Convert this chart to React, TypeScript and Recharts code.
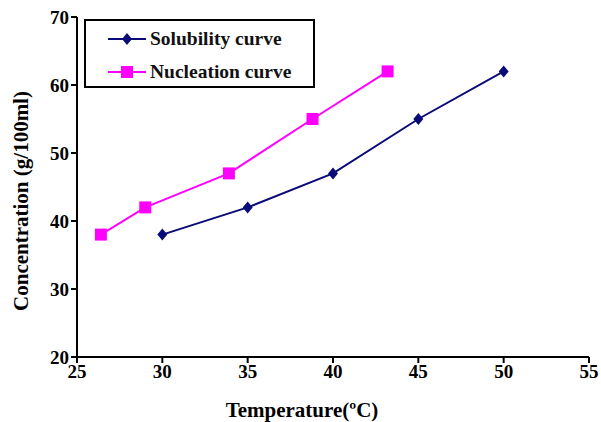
import { LineChart, Line, XAxis, YAxis } from "recharts";

const solubilityTemps = [30, 35, 40, 45, 50];
const solubilityConc = [38, 42, 47, 55, 62];
const nucleationTemps = [26.4, 29, 33.9, 38.8, 43.2];
const nucleationConc = [38, 42, 47, 55, 62];
const xTicks = [25, 30, 35, 40, 45, 50, 55];
const yTicks = [20, 30, 40, 50, 60, 70];

const NAVY = "#0a0a78";
const PINK = "#ff00ff";
const FONT = "'Liberation Serif', 'Times New Roman', serif";

const solubilityData = solubilityTemps.map((t, i) => ({ t, c: solubilityConc[i] }));
const nucleationData = nucleationTemps.map((t, i) => ({ t, c: nucleationConc[i] }));

const Diamond = (props: any) => {
  const { cx, cy } = props;
  if (cx == null || cy == null) return null;
  return (
    <polygon
      points={`${cx},${cy - 6} ${cx + 5},${cy} ${cx},${cy + 6} ${cx - 5},${cy}`}
      fill={NAVY}
    />
  );
};

const Square = (props: any) => {
  const { cx, cy } = props;
  if (cx == null || cy == null) return null;
  return <rect x={cx - 6} y={cy - 6} width={12} height={12} fill={PINK} />;
};

const tickStyle = { fill: "#000", fontSize: 19, fontWeight: "bold", fontFamily: FONT };

export default function App() {
  return (
    <div style={{ position: "absolute", left: 0, top: 0, width: 601, height: 422, background: "#fff" }}>
      <LineChart width={601} height={422} margin={{ top: 17, right: 12, left: 17, bottom: 0 }}>
        <XAxis
          type="number"
          dataKey="t"
          domain={[25, 55]}
          ticks={xTicks}
          allowDataOverflow
          height={65}
          stroke="#000"
          strokeWidth={2}
          tickSize={6}
          tickMargin={2}
          tick={tickStyle}
          label={() => (
            <text x={302} y={417} textAnchor="middle" fontSize={21} fontWeight="bold" fontFamily={FONT} fill="#000">
              Temperature(ºC)
            </text>
          )}
        />
        <YAxis
          type="number"
          dataKey="c"
          domain={[20, 70]}
          ticks={yTicks}
          width={60}
          stroke="#000"
          strokeWidth={2}
          tickSize={6}
          tickMargin={2}
          tick={tickStyle}
          label={() => (
            <text
              x={21}
              y={201}
              transform="rotate(-90 21 201)"
              textAnchor="middle"
              dominantBaseline="central"
              fontSize={21}
              fontWeight="bold"
              fontFamily={FONT}
              fill="#000"
            >
              Concentration (g/100ml)
            </text>
          )}
        />
        <Line
          data={solubilityData}
          dataKey="c"
          stroke={NAVY}
          strokeWidth={2}
          dot={<Diamond />}
          activeDot={false}
          isAnimationActive={false}
        />
        <Line
          data={nucleationData}
          dataKey="c"
          stroke={PINK}
          strokeWidth={2}
          dot={<Square />}
          activeDot={false}
          isAnimationActive={false}
        />
      </LineChart>
      <div
        style={{
          position: "absolute",
          left: 84,
          top: 19,
          width: 227,
          height: 65,
          border: "2px solid #000",
          fontFamily: FONT,
          fontWeight: "bold",
          fontSize: 19.5,
          color: "#111",
        }}
      >
        {[
          { name: "Solubility curve", color: NAVY, shape: "diamond" },
          { name: "Nucleation curve", color: PINK, shape: "square" },
        ].map((item, i) => (
          <div key={item.name} style={{ position: "absolute", left: 21, top: 7 + i * 33, height: 22, display: "flex", alignItems: "center" }}>
            <svg width={40} height={22}>
              <line x1={1} y1={11} x2={39} y2={11} stroke={item.color} strokeWidth={2} />
              {item.shape === "diamond" ? (
                <polygon points="20,5 25,11 20,17 15,11" fill={item.color} />
              ) : (
                <rect x={14} y={5} width={12} height={12} fill={item.color} />
              )}
            </svg>
            <span style={{ marginLeft: 3, whiteSpace: "nowrap" }}>{item.name}</span>
          </div>
        ))}
      </div>
    </div>
  );
}
